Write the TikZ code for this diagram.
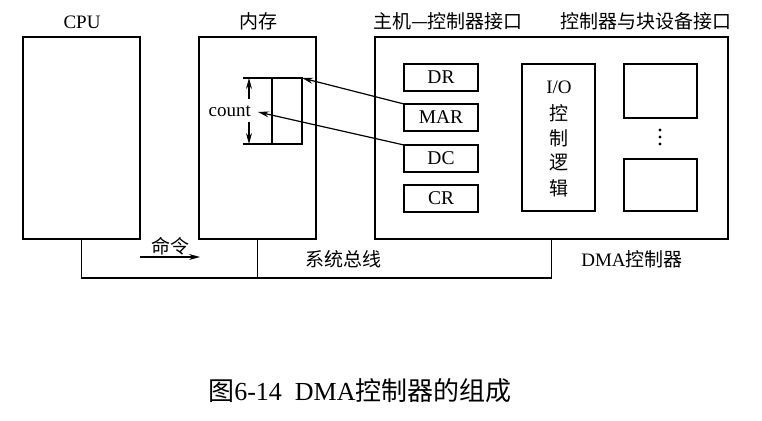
\documentclass[tikz,border=0pt]{standalone}
\usepackage{fontspec}
\setmainfont{Liberation Serif}
\newfontfamily\cjk{Noto Sans CJK SC}
\usetikzlibrary{arrows.meta}
\begin{document}
\begin{tikzpicture}[x=1pt,y=-1pt,
  box/.style={draw,line width=1.6pt,inner sep=0pt,outer sep=0pt,anchor=north west},
  reg/.style={box,minimum width=74pt,minimum height=27pt,font=\fontsize{19.5}{19.5}\selectfont},
  lbl/.style={inner sep=0pt,font=\fontsize{19}{19}\selectfont},
  ln/.style={line width=1.4pt},
  arr/.style={line width=1.2pt,-{Stealth[length=11pt,width=6pt]}}]
\useasboundingbox (0,0) rectangle (762,420);
% main boxes
\node[box,minimum width=117pt,minimum height=202pt] (cpu) at (23,37) {};
\node[box,minimum width=117pt,minimum height=202pt] (mem) at (199,37) {};
\node[box,minimum width=353pt,minimum height=202pt] (dma) at (375,37) {};
% titles
\node[lbl] (cpul) at (82,22) {CPU};
\node[lbl] (meml) at (258,21) {\cjk 内存};
\node[lbl] (hostl) at (448,21) {\cjk 主机—控制器接口};
\node[lbl] (devl) at (646,21) {\cjk 控制器与块设备接口};
% registers
\node[reg] (dr) at (404,64) {DR};
\node[reg] (mar) at (404,104) {MAR};
\node[reg] (dc) at (404,145) {DC};
\node[reg] (cr) at (404,185) {CR};
% I/O control logic
\node[box,minimum width=73pt,minimum height=147pt] (io) at (522,64) {};
\node[lbl] (io1) at (559,87) {I/O};
\node[lbl] (io2) at (559,113) {\cjk 控};
\node[lbl] (io3) at (559,138) {\cjk 制};
\node[lbl] (io4) at (559,163) {\cjk 逻};
\node[lbl] (io5) at (559,188) {\cjk 辑};
% device interface boxes
\node[box,minimum width=73pt,minimum height=54pt] (dev1) at (624,64) {};
\node[box,minimum width=73pt,minimum height=52pt] (dev2) at (624,159) {};
\fill (660,130) circle (1.6pt) (660,137) circle (1.6pt) (660,144) circle (1.6pt);
% memory cell
\node[box,line width=1.4pt,minimum width=30pt,minimum height=66pt] (cell) at (272,78) {};
\coordinate (ct) at (243,78);
\coordinate (cb) at (243,144);
\draw[ln] (cell.north west) -- (ct);
\draw[ln] (cell.south west) -- (cb);
\node[lbl,anchor=east] (count) at (251,111) {count};
\coordinate (cntp) at (258,112);
\coordinate (du) at (249,99);
\coordinate (dd) at (249,122);
\draw[arr] (du) -- (du |- ct);
\draw[arr] (dd) -- (dd |- cb);
% connectors from DMA registers
\draw[arr] (mar.north west) -- (cell.north east);
\draw[arr] (dc.north west) -- (cntp);
% system bus
\coordinate (busy) at (0,278);
\draw[ln] (cpu.south) |- (dma.south |- busy) -- (dma.south);
\draw[ln] (mem.south) -- (mem.south |- busy);
\coordinate (cmda) at (140,257);
\coordinate (cmdb) at (200,257);
\draw[arr] (cmda) -- (cmdb);
\node[lbl] (cmdl) at (170,246) {\cjk 命令};
\node[lbl] (busl) at (343,259) {\cjk 系统总线};
\node[lbl] (dmal) at (632,259) {DMA\cjk 控制器};
% caption
\node[inner sep=0pt,font=\fontsize{26}{26}\selectfont] (cap) at (360,391) {{\cjk 图}6-14\ \ DMA{\cjk 控制器的组成}};
\end{tikzpicture}
\end{document}
